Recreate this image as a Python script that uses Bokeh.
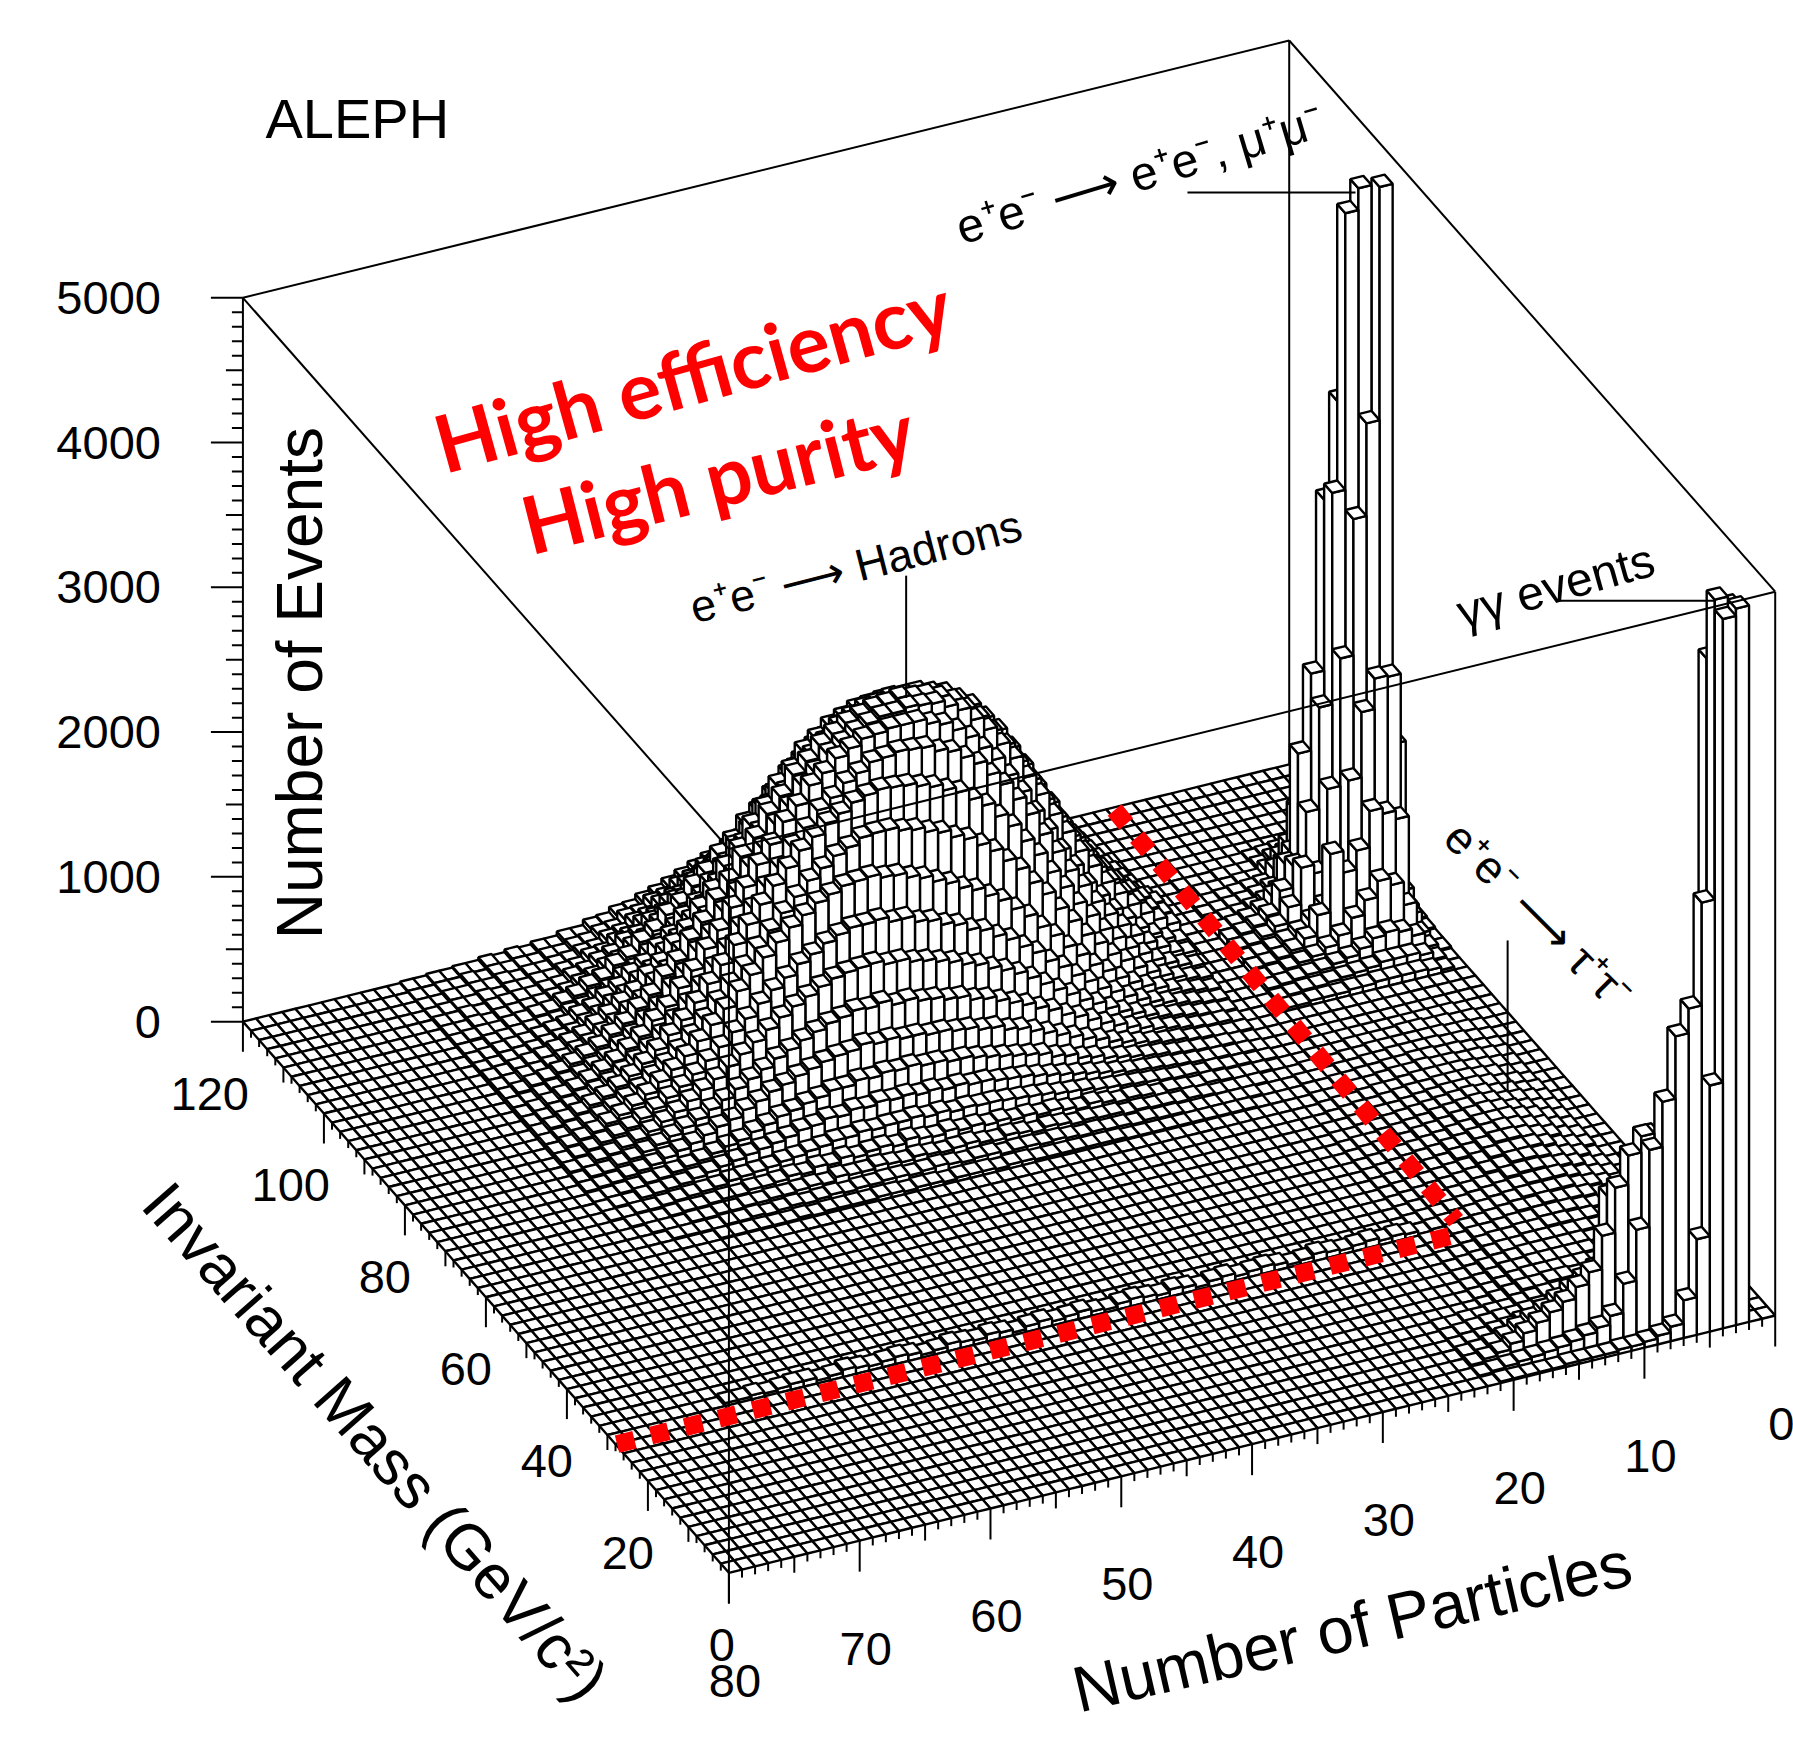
import math
import numpy as np
from bokeh.plotting import figure
from bokeh.models import Range1d
from bokeh.core.properties import value
from bokeh.embed import file_html
from bokeh.resources import INLINE

# ---- axis definitions ------------------------------------------------------
particle_ticks = [0, 10, 20, 30, 40, 50, 60, 70, 80]
mass_ticks = [0, 20, 40, 60, 80, 100, 120]
event_ticks = [0, 1000, 2000, 3000, 4000, 5000]
N_PARTICLE_BINS = 80
N_MASS_BINS = 60
EVENT_UNIT = 10   # most tables below are in tens of events
HADRON_UNIT = 9   # the hadron table was read in units of 9 events

# ---- hadronic hump: particle bins 17..67, one row per 2 GeV mass bin --------
hadron_first_particle = 17
hadron_first_mass_bin = 30
hadron_rows_low_mass_first = [
 [0,0,0,0,1,1,1,1,1,1,1,1,1,1,2,2,2,2,2, 2,2,3,3,2,3,3,3,2,3,3,2,3,3,2,2,2,2,1,2,1,1,1,1,1,1,0,0,0,0,0,0],
 [0,0,0,1,1,1,1,1,1,2,2,3,2,3,3,4,3,4,5, 4,5,5,4,6,6,5,6,7,6,5,6,6,5,5,4,5,4,3,4,3,2,3,2,2,1,1,1,1,0,0,0],
 [0,0,1,1,1,1,2,3,2,3,3,4,3,5,5,6,5,7,8, 6,8,9,7,8,10,9,8,9,10,8,9,10,8,8,9,6,7,6,5,5,4,4,3,3,2,2,1,1,1,0,0],
 [0,1,1,1,2,3,2,3,4,3,5,6,5,7,9,7,9,11,10, 12,11,13,12,14,13,15,13,14,16,13,15,14,12,14,11,12,9,10,8,7,7,5,5,4,3,3,2,1,1,1,0],
 [1,1,2,2,3,2,4,4,5,6,7,8,9,10,12,13,14,16,17, 18,19,20,20,21,20,22,21,23,22,22,21,22,20,20,18,17,15,14,12,11,10,9,7,6,5,4,3,2,2,1,1],
 [1,2,2,3,3,4,5,6,7,8,9,11,13,15,17,19,21,23,25, 26,27,29,29,31,30,32,31,33,32,33,31,32,29,30,27,26,23,21,19,17,15,13,11,9,7,6,5,4,2,2,1],
 [1,2,3,3,4,5,6,8,9,11,13,15,18,20,24,26,30,32,34, 36,38,40,42,42,44,44,46,45,46,44,45,42,42,39,37,34,32,28,25,21,19,16,13,11,9,7,6,4,3,2,1],
 [2,2,3,4,5,7,8,10,12,15,18,22,25,29,33,37,41,45,47, 51,52,55,56,58,58,60,60,62,61,63,60,59,57,54,51,47,44,39,35,30,27,23,19,16,13,10,8,6,4,3,2],
 [2,4,4,5,7,9,11,14,17,21,25,30,35,39,45,49,54,58,62, 66,68,72,73,76,77,80,79,83,81,82,79,77,73,69,64,60,54,49,44,38,33,28,24,20,16,13,10,8,5,4,2],
 [3,4,5,7,9,11,14,18,22,27,33,38,45,51,58,65,71,76,80, 85,88,92,95,98,100,103,103,106,105,104,102,98,93,88,82,75,68,61,54,47,41,35,29,24,19,15,12,9,7,4,3],
 [4,5,7,9,12,15,19,24,30,35,43,50,59,66,75,82,90,95,102, 105,111,114,119,121,126,126,130,129,129,126,122,116,111,103,96,88,79,71,62,54,46,39,33,27,22,17,14,11,8,5,3],
 [5,7,9,12,16,20,25,31,39,46,56,65,76,85,96,104,113,119,126, 130,136,140,145,148,152,153,156,155,154,150,146,139,132,123,114,103,93,82,72,62,53,45,38,31,25,20,16,12,9,6,3],
 [7,9,12,16,21,27,35,42,53,62,75,87,101,112,125,134,144,151,158, 162,168,171,175,177,180,180,179,174,170,163,156,146,136,125,114,102,91,80,69,59,50,42,35,28,23,18,14,11,8,5,3],
 [9,12,16,21,28,35,45,54,67,79,94,108,124,137,151,161,172,179,187, 191,196,199,202,203,204,202,199,193,188,180,172,161,150,138,125,112,99,87,75,64,55,46,38,31,25,20,16,12,9,6,3],
 [12,15,21,27,35,45,56,68,83,97,114,130,148,162,176,186,197,204,211, 214,219,220,221,219,218,212,207,198,191,179,168,154,142,128,116,102,90,78,67,57,48,40,33,27,21,17,13,10,8,5,3],
 [14,18,24,31,41,50,63,75,91,106,124,140,158,173,188,199,210,218,225, 228,232,232,232,230,229,224,219,210,203,190,180,165,152,137,124,109,97,83,72,60,52,42,35,28,23,18,14,11,8,5,3],
 [20,26,33,42,53,64,79,93,110,126,144,160,177,190,204,214,224,229,234, 235,236,234,234,231,227,221,215,204,196,182,171,155,143,126,114,99,88,74,65,53,45,36,30,23,19,15,12,9,7,4,3],
 [21,27,35,44,56,68,83,97,114,130,148,164,180,193,206,215,224,229,233, 234,236,234,233,230,227,221,215,205,197,183,172,156,144,128,116,101,90,76,67,55,47,38,32,25,21,17,13,10,8,5,3],
 [22,28,36,46,58,70,86,100,118,134,152,168,184,196,208,215,222,225,228, 228,229,227,226,222,217,208,200,187,177,162,151,135,123,107,96,83,74,62,55,44,38,31,26,20,17,13,10,8,7,4,3],
 [19,25,32,41,52,63,78,92,108,123,141,157,173,185,197,205,213,216,219, 219,220,219,218,214,210,203,196,184,175,160,149,133,122,106,95,81,72,60,53,43,37,30,25,19,16,13,10,8,6,4,3],
 [16,22,28,36,47,57,71,84,99,113,130,145,161,173,184,192,200,203,207, 206,208,206,204,199,194,185,176,163,153,139,128,113,102,88,79,67,59,48,42,34,29,23,19,14,12,10,8,6,5,3,2],
 [14,19,25,32,42,51,63,75,89,102,118,131,146,157,169,177,185,189,192, 192,194,192,191,186,181,172,164,152,143,129,119,105,95,82,74,62,55,45,40,32,27,21,18,13,11,9,7,6,5,3,2],
 [12,16,22,28,37,45,57,67,80,92,106,118,131,142,153,161,170,174,177, 177,177,174,171,165,159,150,141,129,121,109,99,86,78,66,59,49,44,35,31,24,20,15,13,9,8,7,6,5,4,2,2],
 [10,14,18,24,32,39,49,58,70,81,94,105,117,127,138,146,154,157,160, 160,161,158,156,151,147,140,134,124,117,106,98,87,79,68,62,52,46,37,33,25,22,17,14,10,9,7,6,4,4,3,2],
 [8,11,15,20,27,33,42,50,61,70,82,92,104,113,123,130,137,141,143, 143,143,140,138,132,127,120,113,103,97,86,79,69,62,53,48,39,35,27,24,19,16,12,10,8,7,6,5,3,4,2,2],
 [6,8,11,15,21,26,33,40,49,57,67,75,85,92,101,107,114,118,122, 123,125,122,119,114,111,104,98,89,84,75,69,59,54,46,42,34,31,24,21,16,14,10,9,7,7,6,5,3,4,2,2],
 [5,7,9,12,17,21,28,33,41,48,57,64,73,80,88,93,99,103,107, 108,108,105,103,98,94,88,83,74,69,61,56,48,44,36,33,26,24,18,17,12,11,8,8,6,6,4,5,3,3,2,1],
 [4,5,7,10,14,17,23,28,35,41,49,55,63,69,76,80,86,89,92, 92,92,89,87,83,79,73,69,61,57,49,46,39,36,29,27,21,19,14,13,10,9,7,7,5,6,4,4,3,3,1,1],
 [3,4,6,8,12,14,19,23,29,34,41,46,53,58,64,68,73,75,77, 77,77,74,73,69,66,61,58,51,48,41,38,32,30,24,23,17,16,12,11,8,8,6,6,5,5,3,4,2,2,1,1],
 [2,3,4,6,8,11,15,18,24,28,34,38,44,48,53,56,60,62,64, 64,62,60,58,56,53,50,46,43,39,35,31,27,24,20,19,15,14,10,10,7,7,5,6,4,5,3,3,2,2,1,1],
]

# ---- e+e- -> e+e-, mu+mu- spike: particle bins 0..13, mass bins 38..52 ------
dilepton_first_mass_bin = 38
dilepton_rows_low_mass_first = [
 [0,2,4,5,5,5,5,4,4,3,3,3,2,2],
 [0,3,8,10,10,10,8,7,6,5,4,4,3,2],
 [1,5,15,20,22,20,15,11,9,7,6,5,4,3],
 [1,8,30,46,51,40,30,20,14,10,8,6,4,3],
 [2,15,83,89,93,68,55,70,30,16,10,7,5,4],
 [3,25,175,176,155,110,50,28,20,14,10,7,5,4],
 [5,120,507,346,282,188,100,44,50,25,14,9,6,5],
 [4,100,440,502,487,296,150,80,45,30,15,10,7,5],
 [3,100,400,450,351,285,167,114,40,20,12,8,6,5],
 [5,30,200,300,250,140,90,40,15,10,7,5,4,3],
 [3,15,100,150,120,90,60,25,10,7,5,4,3,2],
 [2,8,40,60,60,50,30,15,6,5,4,3,2,2],
 [1,4,15,25,25,20,15,8,3,3,2,2,2,1],
 [1,2,7,10,10,9,7,4,2,2,2,1,1,1],
 [1,1,3,4,5,4,3,2,1,1,1,1,1,1],
]

# ---- gamma-gamma ridge: particle bins 0..21, mass bins 0..6 -----------------
gamma_rows_low_mass_first = [
 [0,0,495,490,170,66,26,10,6,4,3,3,2,2,2,2,1,1,1,1,1,0],
 [0,0,490,497,290,219,202,159,128,75,40,20,14,11,9,7,6,5,4,3,2,1],
 [0,0,350,450,200,190,145,125,131,120,100,69,46,38,30,25,20,15,10,6,4,2],
 [0,0,150,190,170,140,120,123,110,90,88,40,35,30,25,20,16,12,8,5,3,2],
 [0,0,30,50,50,40,40,40,40,35,30,20,15,12,10,8,8,6,5,3,2,1],
 [0,0,5,10,12,12,12,12,11,10,9,8,8,7,7,6,5,5,4,3,2,1],
 [0,0,2,3,4,4,5,5,5,5,4,4,4,4,4,3,3,3,2,2,1,1],
]

# ---- tau-pair bump: particle bins 2..17, mass bins 6..34 --------------------
tau_first_particle = 2
tau_first_mass_bin = 6
tau_rows_low_mass_first = [
 [1,1,2,3,4,5,5,6,7,7,7,7,6,5,3,1],
 [1,2,3,4,5,6,6,7,7,8,8,7,7,5,3,1],
 [1,2,3,4,5,6,6,7,7,7,7,7,6,4,2,1],
 [2,2,3,4,5,6,7,7,7,7,7,6,6,4,2,1],
 [2,2,4,5,6,6,7,7,7,7,7,6,5,4,2,1],
 [2,3,4,5,6,7,7,7,7,7,6,6,5,3,2,1],
 [2,3,4,5,7,7,8,8,7,7,6,6,5,3,2,1],
 [2,3,5,6,7,8,8,8,7,7,6,5,5,3,2,1],
 [2,3,5,7,8,8,9,8,8,7,6,5,4,3,2,1],
 [2,4,6,7,9,9,9,9,8,7,6,5,4,3,2,1],
 [2,4,6,8,10,10,10,9,8,7,6,5,4,3,2,1],
 [2,4,7,9,10,11,11,10,8,7,6,5,4,3,2,1],
 [2,5,7,9,11,12,12,10,9,7,6,5,4,3,2,1],
 [3,5,7,10,12,12,12,11,9,7,6,5,4,3,2,1],
 [3,5,8,10,12,13,13,11,9,8,6,5,4,3,2,1],
 [3,5,8,10,12,13,12,11,9,8,6,5,4,3,2,1],
 [3,5,8,10,12,12,12,10,9,7,6,5,4,3,2,1],
 [3,5,7,9,11,12,11,10,8,7,6,4,4,3,2,1],
 [3,5,7,8,10,11,10,9,8,6,5,4,3,2,2,1],
 [3,4,6,7,9,10,9,8,7,6,5,4,3,2,1,1],
 [2,4,5,7,8,8,8,7,6,5,4,4,3,2,1,1],
 [2,3,5,6,7,7,7,6,6,5,4,3,3,2,1,0],
 [2,3,4,5,6,6,6,6,5,4,4,3,2,2,1,0],
 [2,3,4,4,5,5,6,5,5,4,3,3,2,1,1,0],
 [1,2,3,4,4,5,5,4,4,3,3,2,2,1,1,0],
 [1,2,3,3,4,4,4,4,3,3,2,2,1,1,1,0],
 [1,2,2,3,3,3,3,3,3,2,2,1,1,1,0,0],
 [1,1,2,2,3,3,2,2,2,2,1,1,1,0,0,0],
 [0,1,1,1,1,1,1,1,1,1,1,1,0,0,0,0],
]

# ---- low step just above the selection line: mass bin 15, particle bins 18.. -
step_mass_bin = 15
step_first_particle = 18
step_row = [3,4,3,5,4,3,4,5,3,2,4,5,4,3,5,4,2,4,5,3,4,5,4,2,3,5,4,3,5,4,2,4,5,3,4,5,3,2,4,5,4,3,4,5,3,2,4,4,3,2,3,2,2]

# ---- selection cut (red dotted lines), chart coordinates --------------------
cut_a_particles = [13.5, 14.8]
cut_a_mass = [119.5, 31.0]
cut_b_particles = [79.9, 15.9]
cut_b_mass = [27.95, 28.5]


def fill(H, rows, first_u, first_j, unit=EVENT_UNIT):
    for r, row in enumerate(rows):
        for c, val in enumerate(row):
            j, i = first_j + r, first_u + c
            H[j, i] = max(H[j, i], val * unit)


H = np.zeros((N_MASS_BINS, N_PARTICLE_BINS))
fill(H, hadron_rows_low_mass_first, hadron_first_particle, hadron_first_mass_bin, HADRON_UNIT)
fill(H, dilepton_rows_low_mass_first, 0, dilepton_first_mass_bin)
fill(H, gamma_rows_low_mass_first, 0, 0)
fill(H, tau_rows_low_mass_first, tau_first_particle, tau_first_mass_bin)
fill(H, [step_row], step_first_particle, step_mass_bin)

# ---- oblique projection (reference pixels) ----------------------------------
K = 1793 / 1568
ORIGIN = (1552 * K, 1150 * K)
DU = (-11.4375 * K, 2.8125 * K)
DV = (-3.5417 * K, -4.0167 * K)
DZ = -0.1266 * K


def proj(u, v, z=0.0):
    return (ORIGIN[0] + DU[0] * u + DV[0] * v, ORIGIN[1] + DU[1] * u + DV[1] * v + DZ * z)


p = figure(width=1793, height=1738, x_range=Range1d(0, 1793), y_range=Range1d(1738, 0),
           output_backend="svg", toolbar_location=None, min_border=0)
p.axis.visible = False
p.grid.visible = False
p.outline_line_color = None
p.background_fill_color = "white"
p.border_fill_color = "white"

LW = 2.0
MESH_LW = 2.4


def segs(pairs, width=LW, color="black"):
    xs = [[a[0], b[0]] for a, b in pairs]
    ys = [[a[1], b[1]] for a, b in pairs]
    p.multi_line(xs, ys, line_color=color, line_width=width)


UMAX, VMAX, ZMAX = particle_ticks[-1], mass_ticks[-1], event_ticks[-1]

# back edges of the box
segs([
    (proj(UMAX, VMAX, ZMAX), proj(0, VMAX, ZMAX)),
    (proj(0, VMAX, ZMAX), proj(0, 0, ZMAX)),
    (proj(0, VMAX, 0), proj(0, VMAX, ZMAX)),
    (proj(0, 0, 0), proj(0, 0, ZMAX)),
    (proj(UMAX, VMAX, 0), proj(UMAX, VMAX, ZMAX)),
])

# lego columns, far corner first
xs, ys = [], []
for i in range(N_PARTICLE_BINS):
    for j in range(N_MASS_BINS - 1, -1, -1):
        z = float(H[j, i])
        u0, u1, v0, v1 = i, i + 1, 2 * j, 2 * j + 2
        if z > 0:
            a = [proj(u1, v1, 0), proj(u1, v0, 0), proj(u1, v0, z), proj(u1, v1, z)]
            b = [proj(u1, v0, 0), proj(u0, v0, 0), proj(u0, v0, z), proj(u1, v0, z)]
            xs += [[q[0] for q in a], [q[0] for q in b]]
            ys += [[q[1] for q in a], [q[1] for q in b]]
        t = [proj(u0, v0, z), proj(u1, v0, z), proj(u1, v1, z), proj(u0, v1, z)]
        xs.append([q[0] for q in t])
        ys.append([q[1] for q in t])
p.patches(xs, ys, fill_color="white", line_color="black", line_width=MESH_LW)

# front edges of the box, over the surface
segs([
    (proj(UMAX, VMAX, ZMAX), proj(UMAX, 0, ZMAX)),
    (proj(UMAX, 0, ZMAX), proj(0, 0, ZMAX)),
    (proj(UMAX, 0, 0), proj(UMAX, 0, ZMAX)),
])

# ticks
tick_pairs = []
for z in range(0, ZMAX + 1, 100):
    a = proj(UMAX, VMAX, z)
    L = 32 if z % 1000 == 0 else (17 if z % 500 == 0 else 11)
    tick_pairs.append((a, (a[0] - L, a[1])))
for v in range(0, VMAX + 1, 2):
    a = proj(UMAX, v, 0)
    L = 30 if v % 20 == 0 else (15 if v % 10 == 0 else 7)
    tick_pairs.append((a, (a[0], a[1] + L)))
for u in range(0, UMAX + 1):
    a = proj(u, 0, 0)
    L = 31 if u % 10 == 0 else (16 if u % 5 == 0 else 8)
    tick_pairs.append((a, (a[0], a[1] + L)))
segs(tick_pairs)

# selection cut
for cu, cv in ((cut_a_particles, cut_a_mass), (cut_b_particles, cut_b_mass)):
    pts = [proj(a, b) for a, b in zip(cu, cv)]
    p.line([q[0] for q in pts], [q[1] for q in pts], line_color="#ff0000", line_width=18,
           line_dash="18 17", line_cap="butt")

# annotation leader lines (reference pixels of the shrunk view)
leaders = [((1038, 168), (1185, 168)), ((792, 503), (792, 610)),
           ((1362, 525), (1500, 525)), ((1318, 822), (1318, 955))]
segs([((a[0] * K, a[1] * K), (b[0] * K, b[1] * K)) for a, b in leaders])

FONT = "Liberation Sans"


def label(txt, x, y, size, angle=0.0, align="center", font=FONT, color="black", style="normal"):
    p.text([x], [y], text=[txt], text_font=value(font), text_font_size=f"{size:.0f}px",
           text_color=color, text_align=align, text_baseline="middle",
           angle=[math.radians(angle)], text_font_style=style)


for z in event_ticks:
    a = proj(UMAX, VMAX, z)
    label(str(z), a[0] - 82, a[1], 47, align="right")
for v in mass_ticks:
    a = proj(UMAX, v, 0)
    label(str(v), a[0] + 6, a[1] + 72, 47, align="right")
for u in particle_ticks:
    a = proj(u, 0, 0)
    label(str(u), a[0] + 6, a[1] + 108, 47)

label("ALEPH", 312 * K, 103 * K, 56)
label("Number of Events", 262 * K, 597 * K, 64, angle=90)
label("Invariant Mass (GeV/c\u00b2)", 328 * K, 1260 * K, 63, angle=-48.6)
label("Number of Particles", 1182 * K, 1422 * K, 65, angle=13)
label("High efficiency", 605 * K, 326 * K, 80, angle=15.5, font="Lato", color="#ff0000", style="bold")
label("High purity", 627 * K, 416 * K, 80, angle=14.2, font="Lato", color="#ff0000", style="bold")
label("e\u207ae\u207b \u27f6 e\u207ae\u207b, \u03bc\u207a\u03bc\u207b", 996 * K, 152 * K, 48, angle=16.7)
label("e\u207ae\u207b \u27f6 Hadrons", 748 * K, 495 * K, 45, angle=14.3)
label("\u03b3\u03b3 events", 1360 * K, 512 * K, 48, angle=15.7)
label("e\u207ae\u207b \u27f6 \u03c4\u207a\u03c4\u207b", 1345 * K, 800 * K, 46, angle=-45)

open("out.html", "w").write(file_html(p, INLINE))
